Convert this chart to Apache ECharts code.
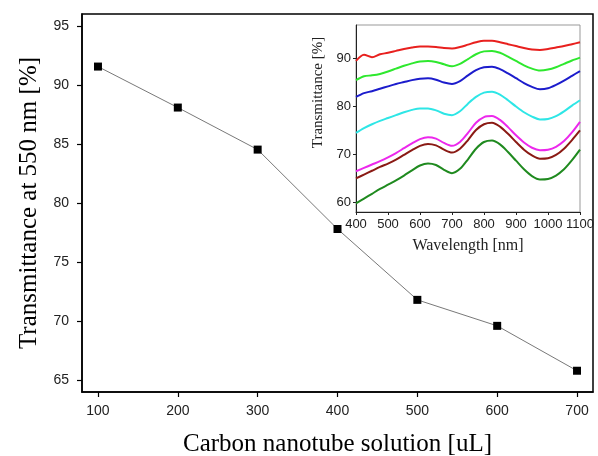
<!DOCTYPE html>
<html>
<head>
<meta charset="utf-8">
<script src="https://cdn.jsdelivr.net/npm/echarts@6.0.0/dist/echarts.min.js"></script>
<style>
  html, body { margin: 0; padding: 0; background: #fff; }
  #chart { width: 598px; height: 456px; }
</style>
</head>
<body>
<div id="chart"></div>
<script>
// main plot
var volumes = [100, 200, 300, 400, 500, 600, 700];
var trans550 = [91.55, 88.08, 84.52, 77.8, 71.8, 69.6, 65.8];
var mainXTicks = [100, 200, 300, 400, 500, 600, 700];
var mainYTicks = [65, 70, 75, 80, 85, 90, 95];

// inset spectra
var wavelengths = [400, 425, 450, 475, 500, 525, 550, 575, 600, 625, 650, 675, 700, 725, 750,
    775, 800, 825, 850, 875, 900, 925, 950, 975, 1000, 1025, 1050, 1075, 1100];
var specRed = [89.5, 90.8, 90.3, 90.9, 91.2, 91.6, 92.0, 92.3, 92.5, 92.5, 92.4, 92.2, 92.1, 92.4, 92.9,
    93.4, 93.7, 93.7, 93.4, 93.0, 92.6, 92.2, 91.9, 91.8, 92.0, 92.3, 92.6, 93.0, 93.4];
var specLime = [85.5, 86.3, 86.5, 86.8, 87.3, 87.9, 88.5, 89.0, 89.4, 89.5, 89.3, 88.8, 88.4, 88.9, 89.9,
    90.9, 91.5, 91.6, 91.2, 90.4, 89.5, 88.6, 87.9, 87.5, 87.7, 88.2, 88.9, 89.6, 90.2];
var specBlue = [82.0, 82.8, 83.2, 83.7, 84.2, 84.7, 85.1, 85.5, 85.8, 85.9, 85.6, 85.0, 84.7, 85.3, 86.5,
    87.6, 88.2, 88.3, 87.8, 86.9, 85.9, 84.9, 84.1, 83.6, 83.8, 84.5, 85.4, 86.4, 87.4];
var specCyan = [74.5, 75.5, 76.3, 77.0, 77.6, 78.2, 78.8, 79.3, 79.6, 79.6, 79.2, 78.5, 78.2, 79.0, 80.6,
    82.0, 82.9, 83.1, 82.5, 81.3, 80.0, 78.8, 77.9, 77.3, 77.4, 78.0, 79.0, 80.2, 81.3];
var specMagenta = [66.5, 67.2, 67.9, 68.6, 69.4, 70.3, 71.3, 72.3, 73.2, 73.6, 73.3, 72.4, 71.8, 72.6, 74.5,
    76.6, 77.8, 78.0, 77.2, 75.7, 74.0, 72.5, 71.4, 70.9, 71.0, 71.6, 72.8, 74.6, 76.8];
var specBrown = [65.0, 65.8, 66.6, 67.4, 68.1, 68.9, 69.9, 70.9, 71.8, 72.2, 71.9, 71.0, 70.4, 71.2, 73.0,
    75.1, 76.3, 76.6, 75.8, 74.3, 72.6, 71.0, 69.8, 69.1, 69.2, 69.9, 71.2, 73.0, 75.0];
var specGreen = [59.8, 60.8, 61.8, 62.8, 63.7, 64.6, 65.6, 66.7, 67.7, 68.1, 67.8, 66.8, 66.1, 67.0, 69.0,
    71.2, 72.6, 72.9, 72.1, 70.5, 68.7, 66.9, 65.5, 64.8, 64.9, 65.6, 66.9, 68.8, 71.0];
var insetYTicks = [60, 70, 80, 90];

var spectra = [
    { data: specRed, color: '#e8201e' },
    { data: specLime, color: '#2ee82e' },
    { data: specBlue, color: '#1c1ccc' },
    { data: specCyan, color: '#2ee6e6' },
    { data: specMagenta, color: '#ec28ec' },
    { data: specBrown, color: '#8a1a14' },
    { data: specGreen, color: '#1f8a1f' }
];

function pairs(xs, ys) {
    return xs.map(function (x, i) { return [x, ys[i]]; });
}

var sansFont = '"Liberation Sans", Arial, sans-serif';
var serifFont = '"Liberation Serif", "Times New Roman", serif';

var chart = echarts.init(document.getElementById('chart'));

var series = [{
    type: 'line',
    xAxisIndex: 0,
    yAxisIndex: 0,
    data: pairs(volumes, trans550),
    symbol: 'rect',
    symbolSize: 8,
    itemStyle: { color: '#000' },
    lineStyle: { color: '#555', width: 0.8 },
    animation: false,
    z: 3
}];

spectra.forEach(function (s) {
    series.push({
        type: 'line',
        xAxisIndex: 1,
        yAxisIndex: 1,
        data: pairs(wavelengths, s.data),
        showSymbol: false,
        smooth: 0.3,
        lineStyle: { color: s.color, width: 2 },
        animation: false
    });
});

var option = {
    backgroundColor: '#fff',
    grid: [
        { left: 82, top: 14, right: 5, bottom: 64, outerBoundsMode: 'none', show: true, borderColor: '#000', borderWidth: 1.5, backgroundColor: 'transparent' },
        { left: 356, top: 25, width: 224, height: 187, outerBoundsMode: 'none', show: true, borderColor: '#999', borderWidth: 1, backgroundColor: 'transparent' }
    ],
    xAxis: [{
        type: 'value',
        gridIndex: 0,
        min: 80,
        max: 720,
        name: 'Carbon nanotube solution [uL]',
        nameLocation: 'middle',
        nameGap: 40,
        nameTextStyle: { fontFamily: serifFont, fontSize: 25, color: '#000' },
        axisLine: { lineStyle: { color: '#000', width: 1.5 } },
        axisTick: { show: true, length: 5, customValues: mainXTicks, lineStyle: { color: '#000', width: 1.2 } },
        axisLabel: { customValues: mainXTicks, fontFamily: sansFont, fontSize: 14, color: '#222', margin: 12 },
        splitLine: { show: false }
    }, {
        type: 'value',
        gridIndex: 1,
        min: 400,
        max: 1100,
        interval: 100,
        name: 'Wavelength [nm]',
        nameLocation: 'middle',
        nameGap: 26,
        nameTextStyle: { fontFamily: serifFont, fontSize: 16, color: '#222' },
        axisLine: { lineStyle: { color: '#222', width: 1 } },
        axisTick: { show: true, length: 3, lineStyle: { color: '#222' } },
        axisLabel: {
            fontFamily: sansFont, fontSize: 13, color: '#222', margin: 6,
            formatter: function (v) { return String(v); }
        },
        splitLine: { show: false }
    }],
    yAxis: [{
        type: 'value',
        gridIndex: 0,
        min: 64,
        max: 96,
        name: 'Transmittance at 550 nm [%]',
        nameLocation: 'middle',
        nameGap: 40,
        nameTextStyle: { fontFamily: serifFont, fontSize: 25, color: '#000' },
        axisLine: { show: true, lineStyle: { color: '#000', width: 1.5 } },
        axisTick: { show: true, length: 5, customValues: mainYTicks, lineStyle: { color: '#000', width: 1.2 } },
        axisLabel: { customValues: mainYTicks, fontFamily: sansFont, fontSize: 14, color: '#222', margin: 13 },
        splitLine: { show: false }
    }, {
        type: 'value',
        gridIndex: 1,
        min: 58,
        max: 97,
        name: 'Transmittance [%]',
        nameLocation: 'middle',
        nameGap: 30,
        nameTextStyle: { fontFamily: serifFont, fontSize: 15, color: '#222', padding: [0, 0, 0, 52] },
        axisLine: { show: true, lineStyle: { color: '#222', width: 1 } },
        axisTick: { show: true, length: 3, customValues: insetYTicks, lineStyle: { color: '#222' } },
        axisLabel: { customValues: insetYTicks, fontFamily: sansFont, fontSize: 13, color: '#222', margin: 5 },
        splitLine: { show: false }
    }],
    series: series
};

chart.setOption(option);
</script>
</body>
</html>
